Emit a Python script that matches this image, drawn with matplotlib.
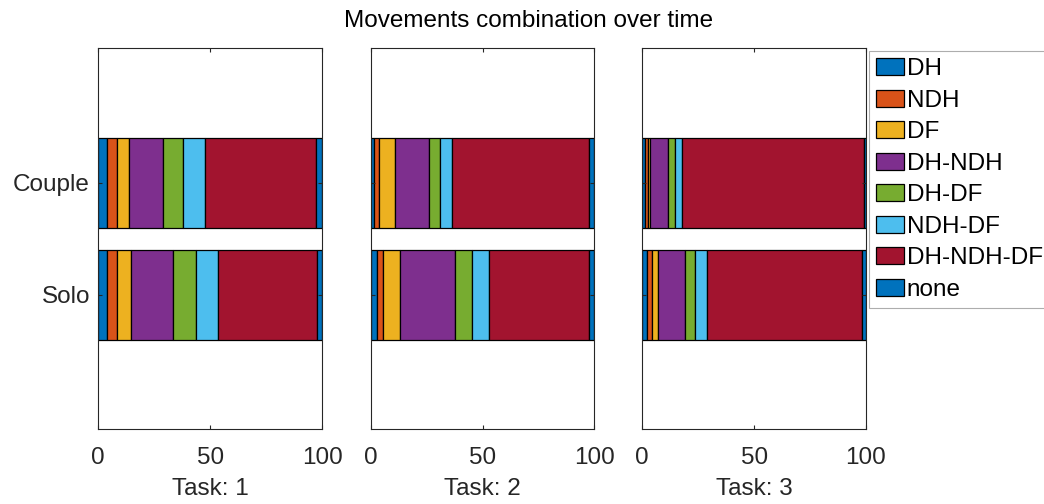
import numpy as np
import matplotlib
matplotlib.use("Agg")
import matplotlib.pyplot as plt

plt.rcParams["font.family"] = ["Liberation Sans", "DejaVu Sans"]

movements = ["DH", "NDH", "DF", "DH-NDH", "DH-DF", "NDH-DF", "DH-NDH-DF", "none"]
colors = ["#0072BD", "#D95319", "#EDB120", "#7E2F8E", "#77AC30", "#4DBEEE", "#A2142F", "#0072BD"]
groups = ["Solo", "Couple"]
tasks = [1, 2, 3]

# percent of time per movement, rows = Solo, Couple
task1 = np.array([
    [4.0, 4.5, 6.3, 18.8, 10.0, 9.7, 44.3, 2.4],
    [3.7, 4.5, 5.7, 15.2, 8.8, 10.0, 49.3, 2.8],
])
task2 = np.array([
    [2.7, 3.0, 7.5, 24.6, 7.6, 7.5, 44.6, 2.5],
    [1.5, 2.2, 7.0, 15.3, 4.9, 5.5, 61.1, 2.5],
])
task3 = np.array([
    [2.2, 2.3, 2.7, 12.1, 4.4, 5.4, 69.1, 1.8],
    [1.2, 1.2, 1.2, 8.1, 2.8, 3.1, 81.5, 0.9],
])
task_data = [task1, task2, task3]

W, H = 1044, 504
fig = plt.figure(figsize=(W / 100, H / 100), dpi=100)
fs = 17.5
lefts = [98.3, 370.7, 642.3]
ax_w = 223.7
ax_top, ax_bot = 48.3, 429.3

ypos = np.arange(1, len(groups) + 1)
handles = []
for k, (left, data) in enumerate(zip(lefts, task_data)):
    ax = fig.add_axes([left / W, 1 - ax_bot / H, ax_w / W, (ax_bot - ax_top) / H])
    start = np.zeros(len(groups))
    for j, name in enumerate(movements):
        b = ax.barh(ypos, data[:, j], left=start, height=0.8, color=colors[j],
                    edgecolor="black", linewidth=0.9, label=name)
        start += data[:, j]
        if k == 0:
            handles.append(b)
    ax.set_xlim(0, 100)
    ax.set_ylim(-0.2, 3.2)
    ax.set_xticks([0, 50, 100])
    ax.set_yticks(ypos)
    if k == 0:
        ax.set_yticklabels(groups)
    else:
        ax.set_yticklabels([])
    ax.tick_params(direction="in", length=3, width=0.8, top=True, right=True,
                   labelsize=fs, colors="#262626", pad=6)
    ax.tick_params(axis="x", pad=13)
    for s in ax.spines.values():
        s.set_color("#262626")
        s.set_linewidth(0.8)
    ax.set_xlabel(f"Task: {tasks[k]}", fontsize=fs, color="#262626", labelpad=6)

fig.text(0.506, 1 - 21 / H, "Movements combination over time", ha="center", va="center",
         fontsize=fs, color="black")

leg = fig.legend(handles=handles, labels=movements, loc="upper left",
                 bbox_to_anchor=(869 / W, 1 - 51 / H), fontsize=fs, frameon=True,
                 fancybox=False, edgecolor="#999999", borderpad=0.3, borderaxespad=0,
                 handlelength=1.15, handleheight=0.7, handletextpad=0.1,
                 labelspacing=0.39)
leg.get_frame().set_linewidth(0.8)

fig.savefig("out.png", dpi=100)
